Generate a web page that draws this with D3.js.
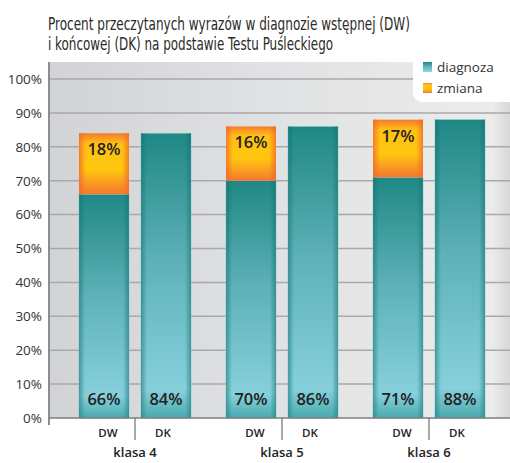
<!DOCTYPE html>
<html>
<head>
<meta charset="utf-8">
<script src="https://cdn.jsdelivr.net/npm/d3@7"></script>
<style>
  body { margin: 0; background: #fff; }
  svg { display: block; }
</style>
</head>
<body>
<svg id="chart" width="510" height="463"></svg>
<script>
const classes = ["klasa 4", "klasa 5", "klasa 6"];
const phases = ["DW", "DK"];
const diagnoza = [[66, 84], [70, 86], [71, 88]];
const zmiana = [[18, 0], [16, 0], [17, 0]];
const yTicks = [0, 10, 20, 30, 40, 50, 60, 70, 80, 90, 100];
const titleLines = ["Procent przeczytanych wyrazów w diagnozie wstępnej (DW)",
                    "i końcowej (DK) na podstawie Testu Puśleckiego"];
const legendLabels = ["diagnoza", "zmiana"];

const width = 510, height = 463;
const margin = { top: 62, right: 0, bottom: 45, left: 49 };
const svg = d3.select("#chart");
const defs = svg.append("defs");

// gradients
const grad = (id, stops, x2 = 0, y2 = 1) => {
    const g = defs.append("linearGradient").attr("id", id)
        .attr("x1", 0).attr("y1", 0).attr("x2", x2).attr("y2", y2);
    stops.forEach(([o, c, a]) => g.append("stop").attr("offset", o)
        .attr("stop-color", c).attr("stop-opacity", a === undefined ? 1 : a));
};
grad("panel", [[0, "#d2d3d5"], [0.5, "#e1e2e3"], [0.96, "#ececec"], [1, "#d8d8d8"]], 1, 0);
grad("teal", [[0, "#1f8884"], [0.45, "#5eb1b8"], [1, "#8fd7e4"]]);
grad("tealEdge", [[0, "#0f6f6e", 0.55], [0.12, "#0f6f6e", 0], [0.88, "#0f6f6e", 0], [1, "#0f6f6e", 0.55]], 1, 0);
grad("tealBottom", [[0, "#1b8a88", 0], [0.9, "#1b8a88", 0], [1, "#1b8a88", 0.6]]);
grad("orange", [[0, "#f57c2c"], [0.18, "#ffc214"], [0.6, "#ffc60e"], [1, "#f47730"]]);
grad("orangeEdge", [[0, "#f26b2a", 0.8], [0.14, "#f26b2a", 0], [0.86, "#f26b2a", 0], [1, "#f26b2a", 0.8]], 1, 0);

// scales
const y = d3.scaleLinear().domain([0, 100]).range([418, 79]);
const x0 = d3.scaleBand().domain(classes).range([61.5, 502.5]);
const x1 = d3.scaleBand().domain(phases).range([-56, 56]).paddingInner(12 / 62);

// background panel
svg.append("rect")
    .attr("x", margin.left).attr("y", margin.top)
    .attr("width", width - margin.left).attr("height", y(0) - margin.top)
    .attr("fill", "url(#panel)");

// gridlines
svg.append("g")
    .selectAll("line")
    .data(yTicks.filter(d => d > 0))
    .join("line")
    .attr("x1", margin.left).attr("x2", width)
    .attr("y1", d => y(d)).attr("y2", d => y(d))
    .attr("stroke", "#a8a9ab").attr("stroke-width", 1.5);

// legend box
svg.append("rect")
    .attr("x", 413).attr("y", 30).attr("width", 120).attr("height", 72)
    .attr("rx", 9).attr("fill", "#fff");

const legend = svg.append("g").attr("transform", "translate(423,62)");
legend.selectAll("g")
    .data(legendLabels)
    .join("g")
    .attr("transform", (d, i) => `translate(0,${i * 21})`)
    .call(g => g.append("rect").attr("width", 9).attr("height", 10)
        .attr("fill", (d, i) => i === 0 ? "url(#teal)" : "url(#orange)"))
    .call(g => g.append("text").attr("x", 14).attr("y", 9.5)
        .attr("font-family", "Open Sans, sans-serif").attr("font-size", 13.5)
        .attr("fill", "#333").text(d => d));

// bars
const rows = [];
classes.forEach((c, i) => phases.forEach((p, j) => rows.push({
    cls: c, phase: p, base: diagnoza[i][j], change: zmiana[i][j]
})));
const barX = d => x0(d.cls) + x0.bandwidth() / 2 + x1(d.phase);

const bars = svg.append("g").selectAll("g").data(rows).join("g");

bars.append("rect")
    .attr("x", barX).attr("y", d => y(d.base))
    .attr("width", x1.bandwidth()).attr("height", d => y(0) - y(d.base))
    .attr("fill", "url(#teal)")
    .attr("stroke", "#7fc9cc").attr("stroke-width", 0.6);
bars.append("rect")
    .attr("x", barX).attr("y", d => y(d.base))
    .attr("width", x1.bandwidth()).attr("height", d => y(0) - y(d.base))
    .attr("fill", "url(#tealEdge)");
bars.append("rect")
    .attr("x", barX).attr("y", d => y(d.base))
    .attr("width", x1.bandwidth()).attr("height", d => y(0) - y(d.base))
    .attr("fill", "url(#tealBottom)");

const ch = bars.filter(d => d.change > 0);
ch.append("rect")
    .attr("x", barX).attr("y", d => y(d.base + d.change))
    .attr("width", x1.bandwidth()).attr("height", d => y(d.base) - y(d.base + d.change))
    .attr("fill", "url(#orange)");
ch.append("rect")
    .attr("x", barX).attr("y", d => y(d.base + d.change))
    .attr("width", x1.bandwidth()).attr("height", d => y(d.base) - y(d.base + d.change))
    .attr("fill", "url(#orangeEdge)");

// value labels
bars.append("text")
    .attr("x", d => barX(d) + x1.bandwidth() / 2)
    .attr("y", y(0) - 13)
    .attr("text-anchor", "middle")
    .attr("font-family", "Open Sans, sans-serif").attr("font-weight", 600)
    .attr("font-size", 16.5).attr("fill", "#222")
    .text(d => d.base + "%");
ch.append("text")
    .attr("x", d => barX(d) + x1.bandwidth() / 2)
    .attr("y", d => y(d.base + d.change) + 22)
    .attr("text-anchor", "middle")
    .attr("font-family", "Open Sans, sans-serif").attr("font-weight", 600)
    .attr("font-size", 16.5).attr("fill", "#222")
    .text(d => d.change + "%");

// y axis
const gy = svg.append("g")
    .attr("transform", `translate(${margin.left},0)`)
    .call(d3.axisLeft(y).tickValues(yTicks).tickFormat(d => d + "%").tickSize(0).tickPadding(7))
    .call(g => g.select(".domain").remove());
gy.selectAll("text")
    .attr("font-family", "Open Sans, sans-serif").attr("font-size", 13.5).attr("fill", "#333");
svg.append("line")
    .attr("x1", margin.left).attr("x2", margin.left)
    .attr("y1", margin.top).attr("y2", 425)
    .attr("stroke", "#8c8d8f").attr("stroke-width", 2);

// x axis
svg.append("line")
    .attr("x1", margin.left).attr("x2", width)
    .attr("y1", y(0)).attr("y2", y(0))
    .attr("stroke", "#7d7e80").attr("stroke-width", 1.5);
svg.append("g").selectAll("line")
    .data(classes)
    .join("line")
    .attr("x1", d => x0(d) + x0.bandwidth() / 2).attr("x2", d => x0(d) + x0.bandwidth() / 2)
    .attr("y1", y(0)).attr("y2", 440)
    .attr("stroke", "#555").attr("stroke-width", 1);

svg.append("g").selectAll("text")
    .data(rows)
    .join("text")
    .attr("x", d => barX(d) + x1.bandwidth() / 2 + (d.phase === "DW" ? 4 : -3))
    .attr("y", 437)
    .attr("text-anchor", "middle")
    .attr("font-family", "Open Sans, sans-serif").attr("font-weight", 600)
    .attr("font-size", 11.5).attr("fill", "#222")
    .text(d => d.phase);

svg.append("g").selectAll("text")
    .data(classes)
    .join("text")
    .attr("x", d => x0(d) + x0.bandwidth() / 2)
    .attr("y", 457)
    .attr("text-anchor", "middle")
    .attr("font-family", "Open Sans, sans-serif").attr("font-weight", 600)
    .attr("font-size", 13).attr("fill", "#222")
    .text(d => d);

// title
svg.append("g").selectAll("text")
    .data(titleLines)
    .join("text")
    .attr("x", 48)
    .attr("y", (d, i) => 30 + i * 20)
    .attr("font-family", "Liberation Sans Narrow, DejaVu Sans Condensed, sans-serif")
    .attr("font-size", 17).attr("fill", "#2a2a2a")
    .attr("textLength", (d, i) => i === 0 ? 362 : 285)
    .attr("lengthAdjust", "spacingAndGlyphs")
    .text(d => d);
</script>
</body>
</html>
